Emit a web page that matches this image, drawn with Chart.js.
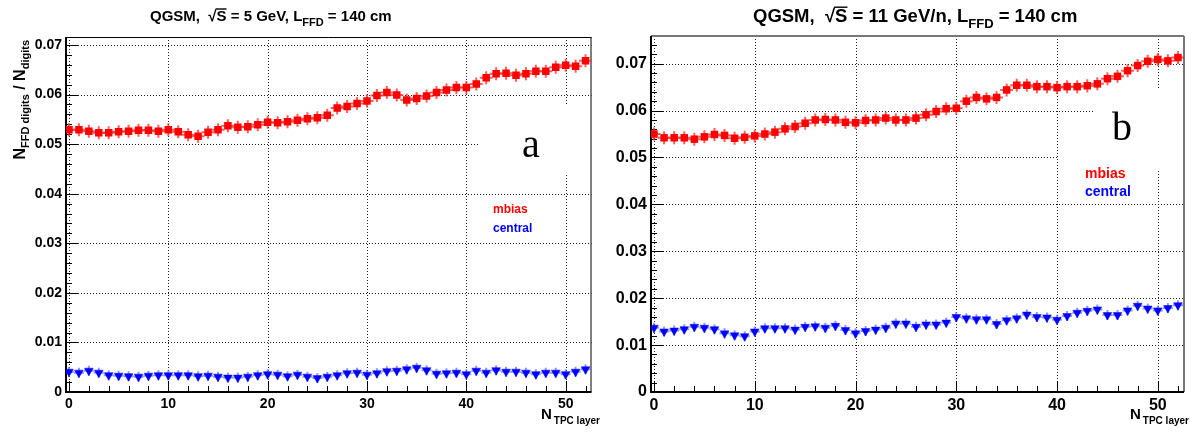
<!DOCTYPE html>
<html><head><meta charset="utf-8">
<script src="https://cdn.jsdelivr.net/npm/chart.js@4.4.1/dist/chart.umd.min.js"></script>
<style>
html,body{margin:0;padding:0;background:#fff;width:1198px;height:432px;overflow:hidden}
.p{position:absolute;top:0;height:432px}
</style></head><body>
<div class="p" style="left:0;width:600px"><canvas id="ca" width="600" height="432"></canvas></div>
<div class="p" style="left:600px;width:598px"><canvas id="cb" width="598" height="432"></canvas></div>
<script>
// ---- data ----
const layers = [0,1,2,3,4,5,6,7,8,9,10,11,12,13,14,15,16,17,18,19,20,21,22,23,24,25,26,27,28,29,30,31,32,33,34,35,36,37,38,39,40,41,42,43,44,45,46,47,48,49,50,51,52];
const mbiasA = [0.0529,0.0529,0.0526,0.0523,0.0523,0.0525,0.0526,0.0528,0.0528,0.0526,0.0529,0.0525,0.0519,0.0516,0.0524,0.0529,0.0537,0.0534,0.0535,0.0539,0.0544,0.0543,0.0545,0.0548,0.0551,0.0553,0.0558,0.0573,0.0576,0.0582,0.0587,0.0598,0.0604,0.0599,0.0589,0.0592,0.0597,0.0604,0.0609,0.0614,0.0614,0.0621,0.0634,0.0642,0.0643,0.0639,0.0642,0.0647,0.0647,0.0655,0.0659,0.0657,0.0668];
const centralA = [0.0041,0.0039,0.0043,0.0039,0.0034,0.0033,0.0032,0.0031,0.0033,0.0034,0.0034,0.0034,0.0034,0.0032,0.0033,0.0031,0.0029,0.0029,0.0031,0.0034,0.0036,0.0035,0.0032,0.0035,0.0031,0.0028,0.0031,0.0034,0.0038,0.0039,0.0035,0.0038,0.0042,0.0043,0.0046,0.0049,0.0044,0.0037,0.0038,0.0039,0.0036,0.0043,0.0039,0.0044,0.0041,0.0041,0.0039,0.0036,0.0039,0.0039,0.0036,0.0041,0.0046];
const mbiasB = [0.0550,0.0542,0.0542,0.0542,0.0539,0.0544,0.0549,0.0547,0.0541,0.0543,0.0546,0.0550,0.0554,0.0561,0.0566,0.0573,0.0580,0.0581,0.0580,0.0575,0.0574,0.0579,0.0580,0.0584,0.0580,0.0580,0.0584,0.0591,0.0598,0.0604,0.0605,0.0620,0.0628,0.0625,0.0628,0.0644,0.0654,0.0654,0.0651,0.0651,0.0649,0.0651,0.0651,0.0653,0.0657,0.0668,0.0673,0.0685,0.0696,0.0705,0.0709,0.0706,0.0713];
const centralB = [0.0137,0.0129,0.0131,0.0134,0.0139,0.0137,0.0134,0.0125,0.0121,0.0119,0.0129,0.0136,0.0136,0.0136,0.0133,0.0139,0.0140,0.0137,0.0141,0.0132,0.0125,0.0130,0.0133,0.0137,0.0146,0.0146,0.0139,0.0144,0.0144,0.0148,0.0160,0.0157,0.0155,0.0155,0.0145,0.0153,0.0157,0.0165,0.0160,0.0159,0.0154,0.0162,0.0169,0.0173,0.0176,0.0164,0.0164,0.0174,0.0184,0.0178,0.0174,0.0179,0.0185];
const xTickValues = [0,10,20,30,40,50];
const yTickValues = [0,0.01,0.02,0.03,0.04,0.05,0.06,0.07];
const seriesNames = ['mbias','central'];

const FONT = '"Liberation Sans", Arial, Helvetica, sans-serif';
const pts = arr => layers.map((x,i)=>({x:x, y:arr[i]}));

function measureParts(ctx, parts) {
  let w = 0;
  for (const p of parts) { ctx.font = 'bold ' + p.s + 'px ' + FONT; w += ctx.measureText(p.t).width + (p.gap || 0); }
  return w;
}
function drawParts(ctx, x, y, parts) {
  let cx = x;
  for (const p of parts) {
    ctx.font = 'bold ' + p.s + 'px ' + FONT;
    const w = ctx.measureText(p.t).width;
    ctx.fillText(p.t, cx, y + (p.dy || 0));
    if (p.over) {
      ctx.save(); ctx.lineWidth = 1.4; ctx.beginPath();
      ctx.moveTo(cx - 1, y - p.s * 0.8); ctx.lineTo(cx + w, y - p.s * 0.8); ctx.stroke(); ctx.restore();
    }
    cx += w + (p.gap || 0);
  }
  return cx - x;
}

function makePlugin(cfg) {
  return {
    id: 'rootStyle',
    beforeDatasetsDraw(chart) {
      const {ctx, chartArea: a, scales: {x, y}} = chart;
      ctx.save();
      ctx.strokeStyle = '#222'; ctx.lineWidth = 1; ctx.setLineDash([1, 2]);
      ctx.beginPath();
      for (const v of xTickValues) {
        const X = Math.round(x.getPixelForValue(v)) + 0.5;
        ctx.moveTo(X, a.top); ctx.lineTo(X, a.bottom);
      }
      for (const v of yTickValues) {
        if (v === 0) continue;
        const Y = Math.round(y.getPixelForValue(v)) + 0.5;
        ctx.moveTo(a.left, Y); ctx.lineTo(a.right, Y);
      }
      ctx.stroke();
      ctx.setLineDash([]);
      ctx.fillStyle = '#fff';
      for (const b of cfg.boxes) ctx.fillRect(b[0], b[1], b[2], b[3]);
      ctx.strokeStyle = '#000'; ctx.lineWidth = 1; ctx.beginPath();
      for (let v = 0; v <= 52; v += 2) {
        const X = Math.round(x.getPixelForValue(v)) + 0.5;
        const L = (v % 10 === 0) ? 11 : 6;
        ctx.moveTo(X, a.bottom); ctx.lineTo(X, a.bottom - L);
      }
      for (let k = 0; k * 0.002 <= y.max; k++) {
        const v = k * 0.002;
        const Y = Math.round(y.getPixelForValue(v)) + 0.5;
        const L = (k % 5 === 0) ? 12 : 6;
        ctx.moveTo(a.left, Y); ctx.lineTo(a.left + L, Y);
      }
      ctx.stroke();
      ctx.lineWidth = cfg.frameW; ctx.strokeStyle = cfg.frameColor;
      ctx.beginPath();
      for (const s of cfg.frameSegs(a)) { ctx.moveTo(s[0], s[1]); ctx.lineTo(s[2], s[3]); }
      ctx.stroke();
      ctx.lineWidth = 2; ctx.strokeStyle = '#000'; ctx.beginPath();
      ctx.moveTo(a.left, a.top); ctx.lineTo(a.left, a.bottom + 1);
      ctx.moveTo(a.left - 1, a.bottom); ctx.lineTo(a.right, a.bottom);
      ctx.stroke();
      ctx.restore();
    },
    afterDraw(chart) {
      const {ctx} = chart;
      ctx.save();
      ctx.fillStyle = '#000'; ctx.strokeStyle = '#000'; ctx.textBaseline = 'alphabetic'; ctx.textAlign = 'left';
      const ts = cfg.titleS, ss = Math.round(ts * 0.7);
      drawParts(ctx, cfg.titleX, cfg.titleY, [
        {t: 'QGSM,  ', s: ts}, {t: '\u221A', s: ts}, {t: 'S', s: ts, over: true},
        {t: cfg.titleMid, s: ts}, {t: 'FFD', s: ss, dy: Math.round(ts * 0.35)}, {t: ' = 140 cm', s: ts}
      ]);
      drawParts(ctx, cfg.xtX, 419, [{t: 'N', s: 15, gap: 2}, {t: 'TPC layer', s: 10, dy: 5}]);
      if (cfg.ytitle) {
        const parts = [{t: 'N', s: 16}, {t: 'FFD digits', s: 11, dy: 4}, {t: ' / N', s: 16}, {t: 'digits', s: 11, dy: 4}];
        const len = measureParts(ctx, parts);
        ctx.save(); ctx.translate(25, 40 + len); ctx.rotate(-Math.PI / 2);
        drawParts(ctx, 0, 0, parts);
        ctx.restore();
      }
      ctx.font = 'bold ' + cfg.legS + 'px ' + FONT;
      ctx.fillStyle = '#ff0000'; ctx.fillText(seriesNames[0], cfg.legX, cfg.legY[0]);
      ctx.fillStyle = '#0000ff'; ctx.fillText(seriesNames[1], cfg.legX, cfg.legY[1]);
      ctx.fillStyle = '#000'; ctx.font = '40px "Liberation Serif", "Times New Roman", serif';
      ctx.fillText(cfg.letter, cfg.letterX, cfg.letterY);
      ctx.restore();
    }
  };
}

function makeChart(id, mb, ce, cfg) {
  return new Chart(document.getElementById(id), {
    type: 'scatter',
    data: {
      datasets: [
        {data: pts(mb), pointStyle: 'rect', pointRadius: 5.3, pointBackgroundColor: '#ff0000', pointBorderColor: '#ff0000', pointBorderWidth: 0, showLine: false},
        {data: pts(mb), pointStyle: 'cross', pointRadius: 6.5, pointBorderColor: 'rgba(255,40,40,0.75)', pointBorderWidth: 2, showLine: false},
        {data: pts(ce), pointStyle: 'triangle', pointRotation: 180, pointRadius: 5, pointBackgroundColor: '#0000ff', pointBorderColor: '#0000ff', pointBorderWidth: 0.5, showLine: false},
        {data: pts(ce), pointStyle: 'cross', pointRadius: 5, pointBorderColor: 'rgba(90,110,255,0.7)', pointBorderWidth: 2, showLine: false}
      ]
    },
    options: {
      responsive: false, animation: false, events: [], devicePixelRatio: 1,
      layout: {padding: {left: 0, right: cfg.padR, top: cfg.padT, bottom: 0}},
      plugins: {legend: {display: false}, tooltip: {enabled: false}, title: {display: false}},
      scales: {
        x: {
          type: 'linear', min: -0.3, max: 52.6,
          afterBuildTicks: s => { s.ticks = xTickValues.map(v => ({value: v})); },
          afterFit: s => { s.height = 40; },
          grid: {display: false, drawTicks: false}, border: {display: false},
          ticks: {autoSkip: false, maxRotation: 0, padding: 4, color: '#000', font: {family: FONT, size: cfg.tickS, weight: 'bold'}, callback: v => String(v)}
        },
        y: {
          type: 'linear', min: 0, max: cfg.ymax,
          afterBuildTicks: s => { s.ticks = yTickValues.map(v => ({value: v})); },
          afterFit: s => { s.width = cfg.yW; },
          grid: {display: false, drawTicks: false}, border: {display: false},
          ticks: {autoSkip: false, padding: 4, color: '#000', font: {family: FONT, size: cfg.tickS, weight: 'bold'}, callback: v => v === 0 ? '0' : v.toFixed(2)}
        }
      }
    },
    plugins: [makePlugin(cfg)]
  });
}

makeChart('ca', mbiasA, centralA, {
  ymax: 0.0716, padR: 1, padT: 37, yW: 66, tickS: 14,
  titleX: 150, titleY: 21, titleS: 15, titleMid: ' = 5 GeV, L', xtX: 541, ytitle: true,
  legS: 12, legX: 493, legY: [213, 232],
  letter: 'a', letterX: 522, letterY: 157,
  boxes: [[478, 105, 119, 70]],
  frameW: 1, frameColor: '#000',
  frameSegs: a => [[a.left, a.top + 0.5, a.right, a.top + 0.5], [a.right - 0.5, a.top, a.right - 0.5, a.bottom]]
});
makeChart('cb', mbiasB, centralB, {
  ymax: 0.0759, padR: 14, padT: 36, yW: 51, tickS: 16,
  titleX: 153, titleY: 22, titleS: 18.5, titleMid: ' = 11 GeV/n, L', xtX: 530, ytitle: false,
  legS: 14, legX: 485, legY: [178, 196],
  letter: 'b', letterX: 512, letterY: 140,
  boxes: [[493, 90, 105, 80], [458, 150, 40, 16]],
  frameW: 2, frameColor: '#777',
  frameSegs: a => [[a.left, a.top, a.right, a.top], [a.right, a.top, a.right, a.bottom]]
});
</script>
</body></html>
